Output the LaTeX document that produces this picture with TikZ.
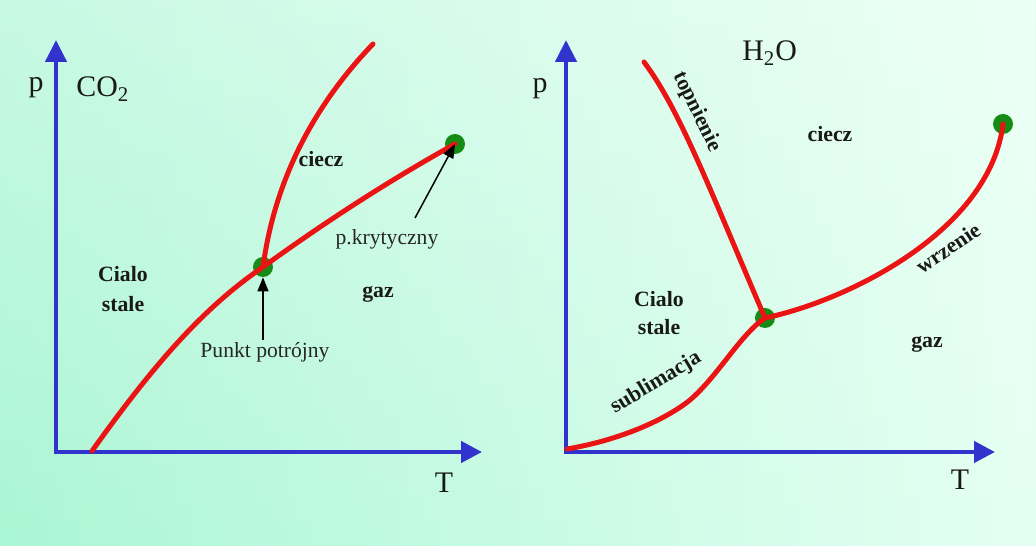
\documentclass[tikz,border=0pt]{standalone}
\usepackage{fontspec}
\setmainfont{Liberation Serif}
\usetikzlibrary{arrows.meta,fadings}
\definecolor{bgL}{RGB}{170,246,212}
\definecolor{bgR}{RGB}{228,255,242}
\definecolor{axisblue}{RGB}{50,50,205}
\definecolor{curvered}{RGB}{235,20,20}
\definecolor{dotgreen}{RGB}{22,140,22}
\tikzset{
  axisline/.style={draw=axisblue, line width=0.09cm, line join=miter,
    {Triangle[width=0.42cm,length=0.44cm]}-{Triangle[width=0.42cm,length=0.42cm]}},
  phase/.style={draw=curvered, line width=0.1cm, line cap=round},
  pt/.style={circle, fill=dotgreen, inner sep=0pt, minimum size=0.4cm},
  region/.style={font=\fontsize{12.4}{14}\selectfont\bfseries, text=black!90, inner sep=0pt, anchor=base},
  rlabel/.style={font=\fontsize{12.4}{14}\selectfont\bfseries, text=black!90, inner sep=0pt},
  note/.style={font=\fontsize{12.3}{14}\selectfont, text=black!85, inner sep=0pt, anchor=base},
  big/.style={font=\fontsize{17}{20}\selectfont, text=black!90, inner sep=0pt},
  pointer/.style={draw=black, line width=0.03cm, -{Triangle[width=0.22cm,length=0.28cm]}}
}
\begin{document}
\begin{tikzpicture}[x=0.02cm,y=-0.02cm]
% background
\shade[left color=bgL, right color=bgR] (0,0) rectangle (1036,546);
\fill[white, opacity=0.35, path fading=south] (0,0) rectangle (1036,546);
\useasboundingbox (0,0) rectangle (1036,546);

% ---------- CO2 ----------
\coordinate (Y1) at (56,40);
\coordinate (O1) at (56,452);
\coordinate (X1) at (482,452);
\draw[axisline] (Y1) -- (O1) -- (X1);
\node[big] (p1) at (36,88) {p};
\node[big, anchor=base west] (co2) at (76,97) {CO\textsubscript{2}};
\node[big, anchor=base] (T1) at (444,493) {T};

\node[pt] (tp1) at (263,267) {};
\node[pt] (cp1) at (455,144) {};
\coordinate (s1) at (92,451);
\coordinate (m1) at (373,44);
\draw[phase] (s1) .. controls (150,370) and (200,310) .. (tp1.center);
\draw[phase] (tp1.center) .. controls (272,200) and (300,120) .. (m1);
\draw[phase] (tp1.center) .. controls (325,222) and (390,180) .. (cp1.center);

\node[region] (ciecz1) at (321,167) {ciecz};
\node[region] (cialo1) at (123,282) {Cialo};
\node[region] (stale1) at (123,312) {stale};
\node[region] (gaz1) at (378,298) {gaz};
\node[note] (kryt) at (387,245) {p.krytyczny};
\node[note] (potr) at (265,358) {Punkt potrójny};
\coordinate (ka) at (415,218);
\coordinate (pa) at (263,340);
\draw[pointer] (ka) -- (cp1.center);
\draw[pointer] (pa) -- (tp1.south);

% ---------- H2O ----------
\coordinate (Y2) at (566,40);
\coordinate (O2) at (566,452);
\coordinate (X2) at (995,452);
\draw[axisline] (Y2) -- (O2) -- (X2);
\node[big] (p2) at (540,89) {p};
\node[big, anchor=base west] (h2o) at (742,61) {H\textsubscript{2}O};
\node[big, anchor=base] (T2) at (960,490) {T};

\node[pt] (tp2) at (765,318) {};
\node[pt] (cp2) at (1003,124) {};
\coordinate (s2) at (567,449);
\coordinate (m2) at (644,62);
\draw[phase] (s2) .. controls (620,440) and (665,420) .. (690,400) .. controls (718,376) and (740,335) .. (tp2.center);
\draw[phase] (m2) .. controls (680,110) and (710,190) .. (tp2.center);
\draw[phase] (tp2.center) .. controls (850,300) and (990,230) .. (cp2.center);

\node[rlabel, rotate=-64] (topn) at (697,112) {topnienie};
\node[rlabel, rotate=31] (subl) at (656,383) {sublimacja};
\node[rlabel, rotate=34] (wrz) at (948,248) {wrzenie};
\node[region] (ciecz2) at (830,142) {ciecz};
\node[region] (cialo2) at (659,307) {Cialo};
\node[region] (stale2) at (659,335) {stale};
\node[region] (gaz2) at (927,348) {gaz};
\end{tikzpicture}
\end{document}
